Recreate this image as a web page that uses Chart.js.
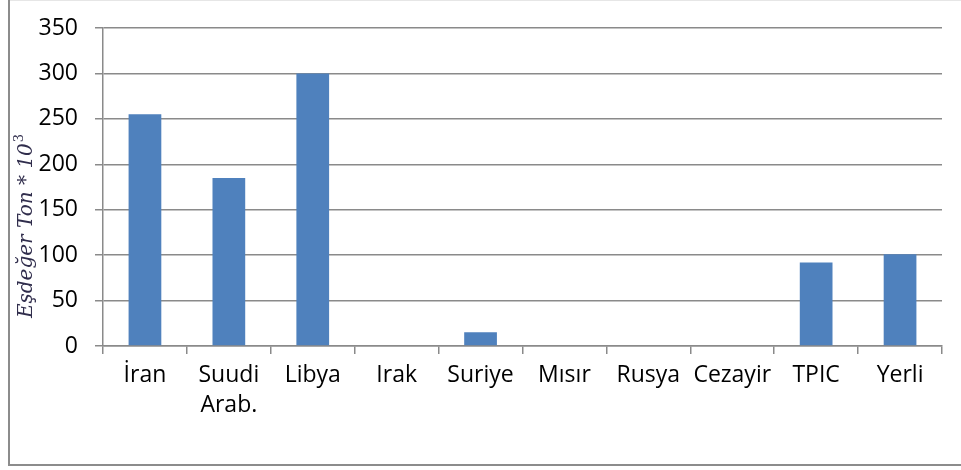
<!DOCTYPE html>
<html>
<head>
<meta charset="utf-8">
<script src="https://cdn.jsdelivr.net/npm/chart.js@4/dist/chart.umd.min.js"></script>
<style>
  html, body { margin: 0; padding: 0; background: #ffffff; }
  #wrap { width: 961px; height: 470px; position: relative; }
</style>
</head>
<body>
<div id="wrap"><canvas id="c" width="961" height="470"></canvas></div>
<script>
// Kategoriler (ülkeler / kaynaklar)
const categories = ['İran', ['Suudi', 'Arab.'], 'Libya', 'Irak', 'Suriye', 'Mısır', 'Rusya', 'Cezayir', 'TPIC', 'Yerli'];
// Eşdeğer ton (x 10^3)
const values = [255, 185, 300, 0, 15, 0, 0, 0, 92, 101];
// Y ekseni
const yTicks = [0, 50, 100, 150, 200, 250, 300, 350];
const yTitleMain = 'Eşdeğer Ton * 10';
const yTitleSup = '3';

const gridColor = '#8a8a8a';
const tickFont = { family: '"Open Sans", sans-serif', size: 23, lineHeight: 1.3 };

// Dış çerçeve
const frame = {
  id: 'frame',
  beforeDraw(chart) {
    const ctx = chart.ctx;
    ctx.save();
    ctx.fillStyle = '#ffffff';
    ctx.fillRect(0, 0, chart.width, chart.height);
    ctx.strokeStyle = '#e6e6e6';
    ctx.lineWidth = 1;
    ctx.beginPath();
    ctx.moveTo(9, 0.5);
    ctx.lineTo(chart.width, 0.5);
    ctx.stroke();
    ctx.strokeStyle = '#8c8c8c';
    ctx.lineWidth = 2;
    ctx.beginPath();
    ctx.moveTo(9, 0);
    ctx.lineTo(9, 465);
    ctx.lineTo(chart.width, 465);
    ctx.stroke();
    ctx.restore();
  }
};

// Dikey eksen başlığı (italik, üst simgeli)
const yTitle = {
  id: 'yTitle',
  afterDraw(chart) {
    const ctx = chart.ctx;
    const fam = '"DejaVu Serif", "Liberation Serif", serif';
    ctx.save();
    ctx.font = 'italic 20px ' + fam;
    const base = ctx.measureText(yTitleMain).width;
    const size = Math.round(20 * 176 / base);
    const sup = Math.round(size * 0.65);
    ctx.translate(32, 226);
    ctx.rotate(-Math.PI / 2);
    ctx.fillStyle = '#302d4c';
    ctx.textBaseline = 'alphabetic';
    ctx.font = 'italic ' + size + 'px ' + fam;
    const w1 = ctx.measureText(yTitleMain).width;
    ctx.font = sup + 'px ' + fam;
    const w2 = ctx.measureText(yTitleSup).width;
    const total = w1 + w2 + 1;
    ctx.font = 'italic ' + size + 'px ' + fam;
    ctx.fillText(yTitleMain, -total / 2, 0);
    ctx.font = sup + 'px ' + fam;
    ctx.fillText(yTitleSup, -total / 2 + w1 + 1, -Math.round(size * 0.45));
    ctx.restore();
  }
};

new Chart(document.getElementById('c'), {
  type: 'bar',
  data: {
    labels: categories,
    datasets: [{
      data: values,
      backgroundColor: '#4f81bd',
      borderWidth: 0,
      barPercentage: 0.39,
      categoryPercentage: 1.0
    }]
  },
  options: {
    responsive: false,
    animation: false,
    layout: { padding: { left: 0, right: 19, top: 28, bottom: 0 } },
    plugins: {
      legend: { display: false },
      tooltip: { enabled: false },
      title: { display: false }
    },
    scales: {
      x: {
        offset: true,
        grid: {
          offset: true,
          drawOnChartArea: false,
          drawTicks: true,
          tickLength: 8,
          color: gridColor,
          lineWidth: 1.5
        },
        border: { display: true, color: gridColor, width: 1.5 },
        ticks: {
          color: '#000000',
          font: tickFont,
          padding: 7,
          maxRotation: 0,
          autoSkip: false
        },
        afterFit(scale) {
          scale.height = 124;
          scale.paddingLeft = 0;
          scale.paddingRight = 0;
        }
      },
      y: {
        min: 0,
        max: 350,
        afterBuildTicks(scale) { scale.ticks = yTicks.map(v => ({ value: v })); },
        grid: {
          color: gridColor,
          lineWidth: 1.5,
          drawTicks: true,
          tickLength: 8
        },
        border: { display: true, color: gridColor, width: 1.5 },
        ticks: {
          color: '#000000',
          font: tickFont,
          padding: 17
        },
        afterFit(scale) {
          scale.width = 103;
          scale.paddingTop = 0;
          scale.paddingBottom = 0;
        }
      }
    }
  },
  plugins: [frame, yTitle]
});
</script>
</body>
</html>
